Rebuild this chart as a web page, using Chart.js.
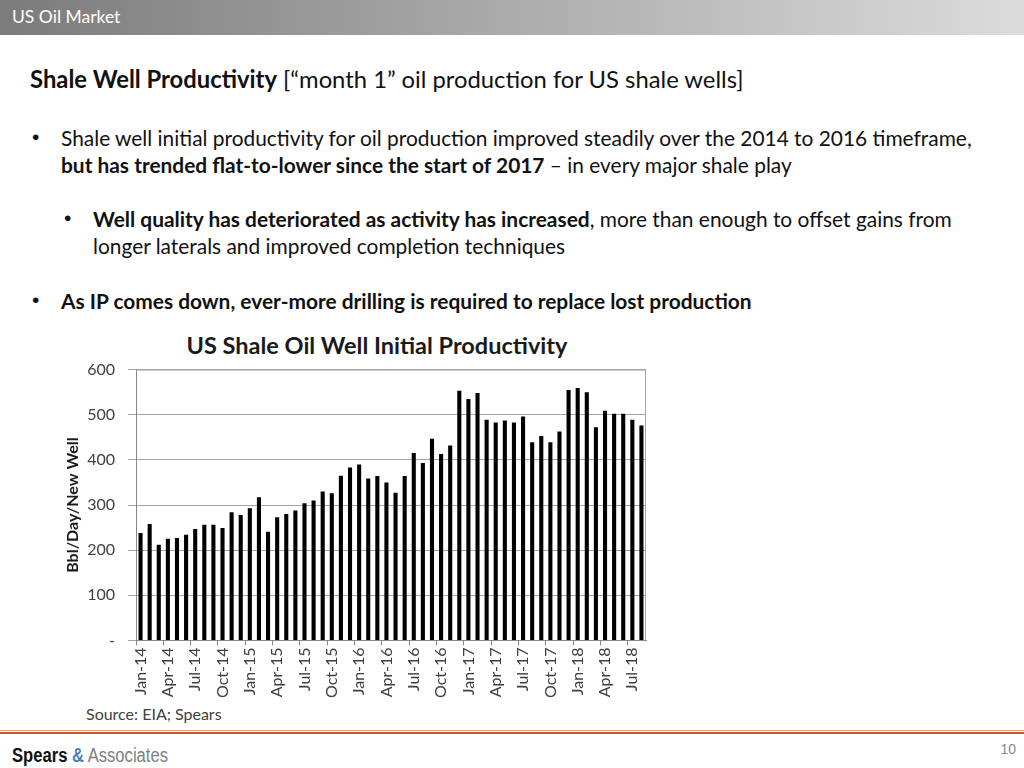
<!DOCTYPE html>
<html>
<head>
<meta charset="utf-8">
<script src="https://cdn.jsdelivr.net/npm/chart.js@4"></script>
<style>
  html, body { margin: 0; padding: 0; width: 1024px; height: 768px; overflow: hidden; background: #fff; font-family: Lato, "Open Sans", sans-serif; color: #111; }
  .header { position: absolute; left: 0; top: 0; width: 1024px; height: 35px; background: linear-gradient(to right, #7b7b7b, #dcdcdc); }
  .header span { position: absolute; left: 12px; top: 6px; color: #fff; font-size: 17.5px; }
  .title { position: absolute; left: 30px; top: 65px; font-size: 23.8px; white-space: nowrap; }
  .bul { position: absolute; font-size: 20.9px; line-height: 27px; white-space: nowrap; }
  .bul .dot { position: absolute; left: -29px; top: -1px; font-family: "Liberation Sans", sans-serif; font-size: 21px; }
  .ctitle { position: absolute; left: 177px; width: 400px; top: 331px; text-align: center; font-size: 23.5px; font-weight: bold; color: #1a1a1a; }
  .src { position: absolute; left: 86px; top: 704px; font-size: 16px; color: #404040; }
  .rule1 { position: absolute; left: 0; top: 730px; width: 1024px; height: 1px; background: #f0a080; }
  .rule2 { position: absolute; left: 0; top: 732px; width: 1024px; height: 2px; background: #c8553d; }
  .brand { position: absolute; left: 12px; top: 744px; font-family: "Liberation Sans", sans-serif; font-size: 20px; transform: scaleX(0.83); transform-origin: left top; white-space: nowrap; }
  .page { position: absolute; right: 8px; top: 741px; font-family: "Liberation Sans", sans-serif; font-size: 14px; color: #888; }
  #wrap { position: absolute; left: 60px; top: 347px; width: 600px; height: 353px; }
</style>
</head>
<body>
<div class="header"><span>US Oil Market</span></div>
<div class="title"><b>Shale Well Productivity</b> [“month 1” oil production for US shale wells]</div>
<div class="bul" style="left:61px; top:124px;"><span class="dot">•</span>Shale well initial productivity for oil production improved steadily over the 2014 to 2016 timeframe,<br><b>but has trended flat-to-lower since the start of 2017</b> – in every major shale play</div>
<div class="bul" style="left:93px; top:205px;"><span class="dot">•</span><b>Well quality has deteriorated as activity has increased</b>, more than enough to offset gains from<br>longer laterals and improved completion techniques</div>
<div class="bul" style="left:61px; top:287px;"><span class="dot">•</span><b>As IP comes down, ever-more drilling is required to replace lost production</b></div>
<div class="ctitle">US Shale Oil Well Initial Productivity</div>
<div id="wrap"><canvas id="chart"></canvas></div>
<div class="src">Source: EIA; Spears</div>
<div class="rule1"></div>
<div class="rule2"></div>
<div class="brand"><b style="color:#111">Spears</b> <b style="color:#4a7fb5">&amp;</b> <span style="color:#808080">Associates</span></div>
<div class="page">10</div>
<script>
const months = [
  "Jan-14", "Feb-14", "Mar-14", "Apr-14", "May-14", "Jun-14", "Jul-14", "Aug-14", "Sep-14", "Oct-14", "Nov-14", "Dec-14",
  "Jan-15", "Feb-15", "Mar-15", "Apr-15", "May-15", "Jun-15", "Jul-15", "Aug-15", "Sep-15", "Oct-15", "Nov-15", "Dec-15",
  "Jan-16", "Feb-16", "Mar-16", "Apr-16", "May-16", "Jun-16", "Jul-16", "Aug-16", "Sep-16", "Oct-16", "Nov-16", "Dec-16",
  "Jan-17", "Feb-17", "Mar-17", "Apr-17", "May-17", "Jun-17", "Jul-17", "Aug-17", "Sep-17", "Oct-17", "Nov-17", "Dec-17",
  "Jan-18", "Feb-18", "Mar-18", "Apr-18", "May-18", "Jun-18", "Jul-18", "Aug-18",
];

// bbl/day per new well, first month
const ipValues = [
  238, 258, 212, 225, 227, 234, 247, 256, 256, 249, 284, 278,
  293, 317, 241, 273, 280, 288, 304, 310, 330, 326, 365, 383,
  390, 359, 364, 350, 327, 364, 415, 393, 447, 413, 432, 553,
  535, 548, 489, 483, 487, 483, 496, 439, 453, 439, 463, 555,
  559, 550, 472, 509, 502, 502, 489, 476,
];

const yTicks = [0, 100, 200, 300, 400, 500, 600];

// grey box round the plot (top + right edges)
const frame = {
  id: "frame",
  afterDraw(chart) {
    const { ctx, chartArea: a } = chart;
    ctx.save();
    ctx.strokeStyle = "#a6a6a6";
    ctx.lineWidth = 1;
    ctx.beginPath();
    ctx.moveTo(a.left, a.top + 0.5);
    ctx.lineTo(a.right - 0.5, a.top + 0.5);
    ctx.lineTo(a.right - 0.5, a.bottom);
    ctx.stroke();
    ctx.restore();
  },
};

new Chart(document.getElementById("chart"), {
  type: "bar",
  data: {
    labels: months,
    datasets: [{ data: ipValues, backgroundColor: "#000", barPercentage: 0.45, categoryPercentage: 1 }],
  },
  options: {
    responsive: true,
    maintainAspectRatio: false,
    animation: false,
    layout: { padding: { left: 3, right: 14, top: 0, bottom: 0 } },
    plugins: {
      legend: { display: false },
      tooltip: { enabled: false },
    },
    scales: {
      x: {
        offset: true,
        // rotated labels ask for side padding we don't want
        afterFit: (s) => { s.paddingLeft = 0; s.paddingRight = 0; },
        grid: {
          offset: true,
          drawOnChartArea: false,
          tickLength: 5,
          color: (c) => (c.index % 3 === 0 ? "#888" : "rgba(0,0,0,0)"),
        },
        border: { color: "#888" },
        ticks: {
          autoSkip: false,
          maxRotation: 90,
          minRotation: 90,
          padding: 2,
          color: "#404040",
          font: { family: "Lato", size: 16 },
          callback: (v, i) => (i % 3 === 0 ? months[i] : ""),
        },
      },
      y: {
        min: 0,
        max: 600,
        afterBuildTicks: (axis) => { axis.ticks = yTicks.map((v) => ({ value: v })); },
        afterFit: (s) => { s.width = 73; },
        grid: { color: "#a6a6a6", tickLength: 8 },
        border: { color: "#888" },
        ticks: {
          color: "#404040",
          padding: 13,
          font: { family: "Lato", size: 16 },
          callback: (v) => (v === 0 ? "-" : v),
        },
        title: {
          display: true,
          text: "Bbl/Day/New Well",
          color: "#1a1a1a",
          font: { family: "Lato", size: 16, weight: "bold" },
          padding: { top: 0, bottom: 6 },
        },
      },
    },
  },
  plugins: [frame],
});
</script>
</body>
</html>
